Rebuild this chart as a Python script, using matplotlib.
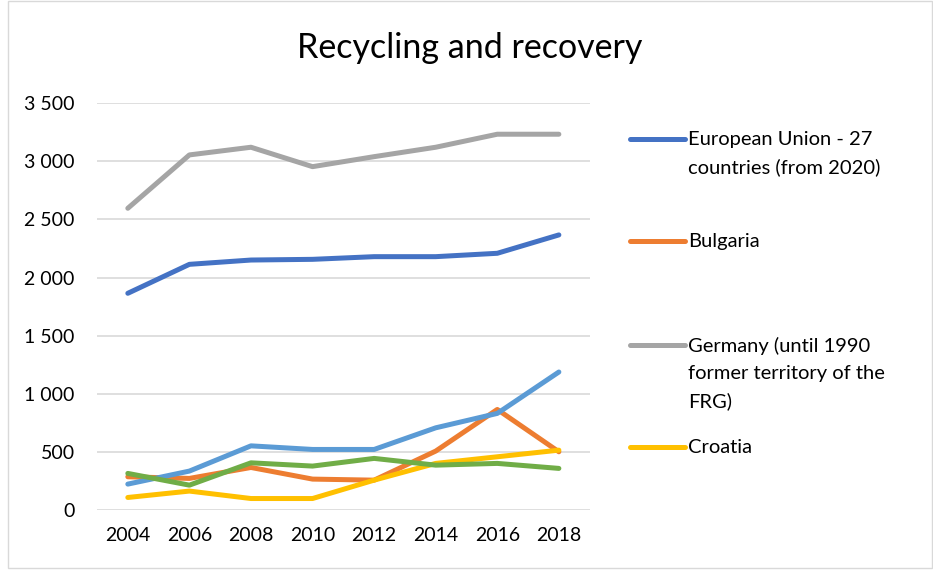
import matplotlib
matplotlib.use("Agg")
import matplotlib.pyplot as plt
from matplotlib.lines import Line2D
from matplotlib.patches import Rectangle
from matplotlib.ticker import FuncFormatter

plt.rcParams["font.family"] = ["Lato", "DejaVu Sans"]

years = [2004, 2006, 2008, 2010, 2012, 2014, 2016, 2018]

eu27 = [1865, 2114, 2151, 2157, 2180, 2180, 2209, 2367]
bulgaria = [287, 273, 367, 267, 258, 508, 866, 502]
germany = [2596, 3055, 3121, 2954, 3040, 3121, 3233, 3233]
croatia = [109, 164, 100, 100, 258, 402, 459, 516]
series5 = [224, 336, 553, 522, 522, 708, 832, 1188]
series6 = [316, 215, 407, 379, 445, 387, 402, 359]

labels = [
    "European Union - 27\ncountries (from 2020)",
    "Bulgaria",
    "Germany (until 1990\nformer territory of the\nFRG)",
    "Croatia",
]
colors = ["#4472C4", "#ED7D31", "#A5A5A5", "#FFC000", "#5B9BD5", "#70AD47"]
yticks = [0, 500, 1000, 1500, 2000, 2500, 3000, 3500]

fig = plt.figure(figsize=(9.33, 5.70), dpi=100)
ax = fig.add_axes([0.104, 0.105, 0.528, 0.714])

all_series = [eu27, bulgaria, germany, croatia, series5, series6]
for vals, c in zip(all_series, colors):
    ax.plot(years, vals, color=c, linewidth=3.6, solid_capstyle="round",
            solid_joinstyle="round", zorder=3)

ax.set_xlim(2003, 2019)
ax.set_ylim(0, 3500)
ax.set_xticks(years)
ax.set_yticks(yticks)
ax.yaxis.set_major_formatter(FuncFormatter(lambda v, p: f"{int(v):,}".replace(",", " ")))
ax.grid(axis="y", color="#D9D9D9", linewidth=1.2, zorder=0)
for s in ax.spines.values():
    s.set_visible(False)
ax.tick_params(axis="both", length=0, labelsize=14, colors="#000000")
ax.tick_params(axis="y", pad=16)
ax.tick_params(axis="x", pad=12)

fig.text(0.503, 0.915, "Recycling and recovery", ha="center", va="center", fontsize=24.5)

# manual legend, Excel spreads the entries down the right side
leg_px = [139, 241, 345, 447]
for lab, c, py in zip(labels, colors[:4], leg_px):
    y = 1 - py / 570
    fig.add_artist(Line2D([630 / 933, 685 / 933], [y, y], color=c, linewidth=3.6,
                          solid_capstyle="round", transform=fig.transFigure))
    fig.text(688 / 933, 1 - (py - 8) / 570, lab, ha="left", va="top",
             fontsize=14.5, linespacing=1.7, transform=fig.transFigure)

fig.add_artist(Rectangle((8 / 933, 2 / 570), 924 / 933, 567 / 570, fill=False,
                         edgecolor="#D9D9D9", linewidth=1, transform=fig.transFigure))

fig.savefig("out.png", dpi=100)
